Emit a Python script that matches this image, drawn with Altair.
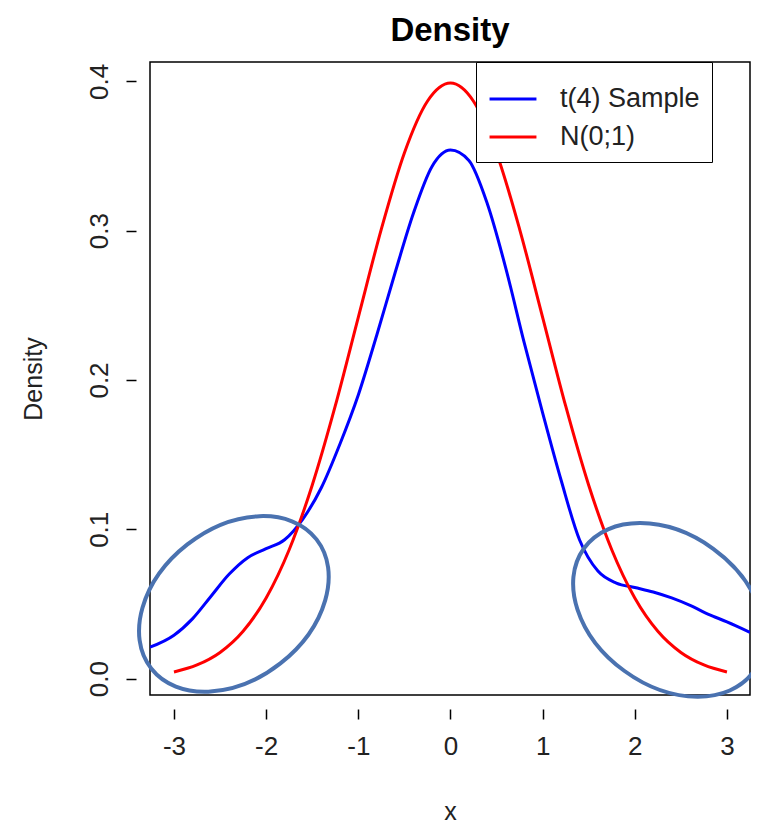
import altair as alt
import pandas as pd

# blue: kernel density of a t(4) sample
t_x = [-3.26, -3.0, -2.8, -2.6, -2.4, -2.2, -2.0, -1.8, -1.6, -1.4, -1.2, -1.0, -0.8, -0.6, -0.4, -0.2,
       0.0, 0.2, 0.4, 0.6, 0.8, 1.0, 1.2, 1.4, 1.6, 1.8, 2.0, 2.2, 2.4, 2.6, 2.8, 3.0, 3.25]
t_y = [0.021, 0.029, 0.040, 0.055, 0.070, 0.081, 0.087, 0.093, 0.107, 0.128, 0.157, 0.190, 0.230, 0.272,
       0.312, 0.343, 0.354, 0.347, 0.318, 0.275, 0.225, 0.178, 0.133, 0.093, 0.072, 0.064, 0.061, 0.058,
       0.054, 0.049, 0.043, 0.038, 0.031]

# red: N(0;1) density
n_x = [-3.0, -2.75, -2.5, -2.25, -2.0, -1.75, -1.5, -1.25, -1.0, -0.75, -0.5, -0.25, 0.0,
       0.25, 0.5, 0.75, 1.0, 1.25, 1.5, 1.75, 2.0, 2.25, 2.5, 2.75, 3.0]
n_y = [0.0044, 0.0091, 0.0175, 0.0317, 0.0540, 0.0863, 0.1295, 0.1826, 0.2420, 0.3011, 0.3521, 0.3867,
       0.3989, 0.3867, 0.3521, 0.3011, 0.2420, 0.1826, 0.1295, 0.0863, 0.0540, 0.0317, 0.0175, 0.0091,
       0.0044]

# highlighted tail regions (centre x, centre y, rotation)
ell_x = [-2.35, 2.37]
ell_y = [0.05, 0.046]
ell_angle = [322, 36]

df = pd.concat([
    pd.DataFrame({"x": t_x, "y": t_y, "series": "t(4) Sample"}),
    pd.DataFrame({"x": n_x, "y": n_y, "series": "N(0;1)"}),
])
ell = pd.DataFrame({"x": ell_x, "y": ell_y, "angle": ell_angle})

FONT = "Liberation Sans"
xs = alt.Scale(domain=[-3.26, 3.25], nice=False, zero=False)
ys = alt.Scale(domain=[-0.011, 0.413], nice=False, zero=False)

axis_style = dict(domain=False, grid=False, tickSize=10, tickColor="black", tickWidth=1.5,
                  labelFontSize=26, titleFontSize=25, titleFontWeight="normal",
                  labelColor="#222222", titleColor="#222222")

lines = alt.Chart(df).mark_line(strokeWidth=3, clip=True, interpolate="monotone").encode(
    x=alt.X("x:Q", scale=xs, title="x",
            axis=alt.Axis(values=[-3, -2, -1, 0, 1, 2, 3], labelExpr="datum.value", offset=14,
                          labelPadding=14, titlePadding=40, **axis_style)),
    y=alt.Y("y:Q", scale=ys, title="Density",
            axis=alt.Axis(values=[0, 0.1, 0.2, 0.3, 0.4], format=".1f", offset=14, labelAngle=270,
                          labelAlign="center", labelBaseline="bottom", labelPadding=14,
                          titlePadding=40, **axis_style)),
    color=alt.Color("series:N", sort=["t(4) Sample", "N(0;1)"],
                    scale=alt.Scale(domain=["t(4) Sample", "N(0;1)"], range=["#0000ff", "#ff0000"]),
                    legend=alt.Legend(title=None, orient="none", legendX=326, legendY=0,
                                      symbolType="stroke", symbolStrokeWidth=3, symbolSize=2200,
                                      labelFontSize=27, labelColor="#222222", strokeColor="black",
                                      fillColor="white", padding=12, rowPadding=0, labelOffset=22,
                                      labelLimit=300)),
)

ellipses = alt.Chart(ell).mark_point(
    shape="M -1 0 A 1 0.72 0 1 0 1 0 A 1 0.72 0 1 0 -1 0 Z",
    filled=False, strokeWidth=4, color="#4a72b0", opacity=1, size=44000, clip=False,
).encode(x=alt.X("x:Q", scale=xs), y=alt.Y("y:Q", scale=ys), angle=alt.Angle("angle:Q", scale=None))

chart = (lines + ellipses).properties(
    width=600, height=633,
    autosize=alt.AutoSizeParams(type="none"),
    padding={"left": 142, "top": 54, "right": 1, "bottom": 134},
    title=alt.TitleParams("Density", fontSize=33, fontWeight="bold", font=FONT, offset=14, color="black"),
).configure(font=FONT).configure_view(stroke="black", strokeWidth=1.5)

chart.save("out.html", embed_options={"renderer": "svg", "actions": False})
